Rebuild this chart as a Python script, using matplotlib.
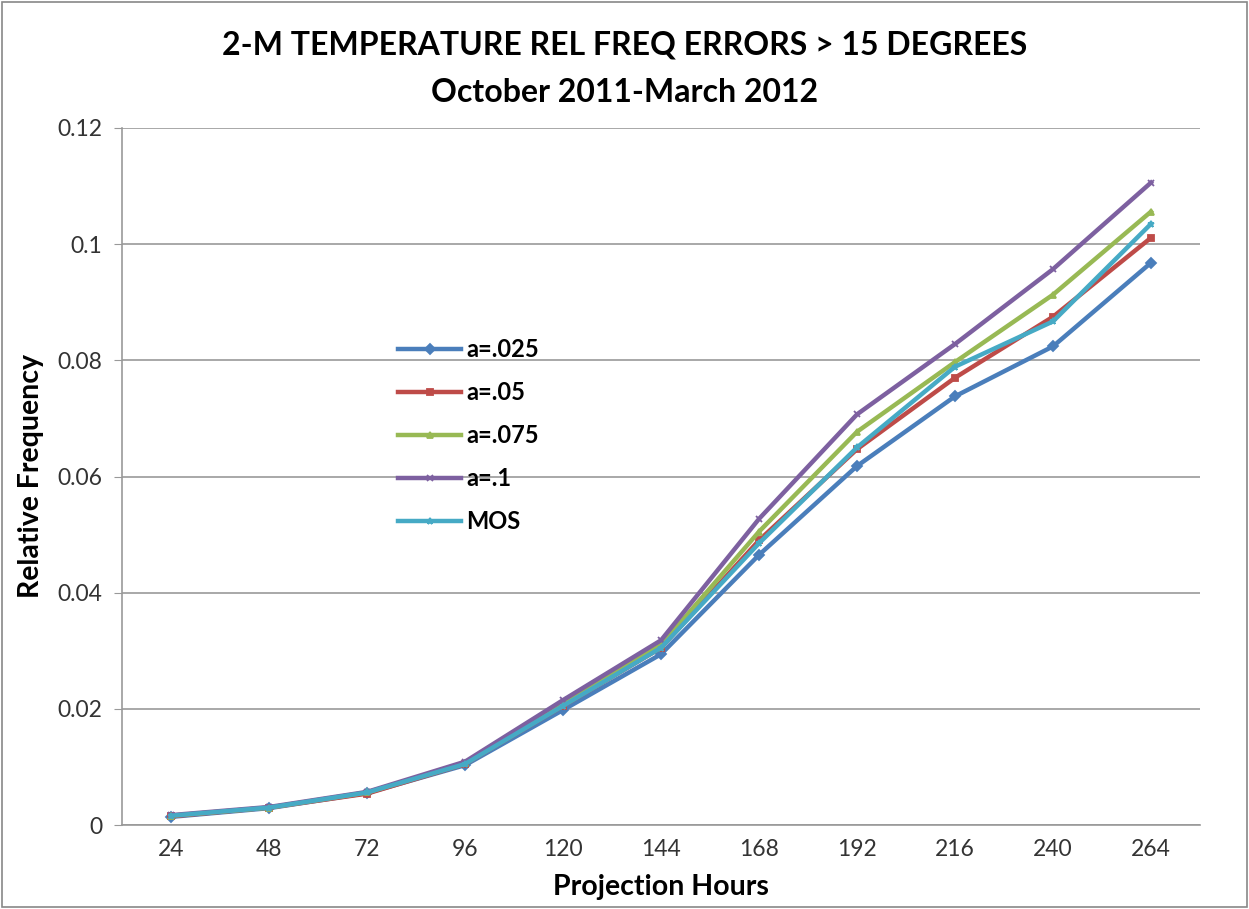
import numpy as np
from matplotlib import pyplot as plt
from matplotlib.patches import Rectangle

plt.rcParams['font.family'] = ['Lato', 'DejaVu Sans']

hours = [24, 48, 72, 96, 120, 144, 168, 192, 216, 240, 264]
a025 = [0.0014, 0.0029, 0.0055, 0.0103, 0.0198, 0.0294, 0.0465, 0.0618, 0.0738, 0.0824, 0.0968]
a05 = [0.0015, 0.0030, 0.0054, 0.0105, 0.0205, 0.0305, 0.0490, 0.0647, 0.0770, 0.0875, 0.1011]
a075 = [0.0016, 0.0030, 0.0056, 0.0106, 0.0210, 0.0310, 0.0505, 0.0677, 0.0797, 0.0913, 0.1056]
a1 = [0.0017, 0.0031, 0.0057, 0.0109, 0.0215, 0.0318, 0.0527, 0.0707, 0.0828, 0.0957, 0.1106]
mos = [0.0016, 0.0030, 0.0056, 0.0105, 0.0205, 0.0305, 0.0485, 0.0650, 0.0789, 0.0867, 0.1035]

labels = ["a=.025", "a=.05", "a=.075", "a=.1", "MOS"]
colors = ["#4A7EBB", "#BE4B48", "#98B954", "#7D60A0", "#46AAC5"]
markers = ["D", "s", "^", "x", "*"]

fig = plt.figure(figsize=(12.49, 9.09), dpi=100)
# thin grey frame round the whole chart, like the Excel chart area
fig.patches.append(Rectangle((0.002, 0.002), 0.996, 0.996, transform=fig.transFigure,
                             fill=False, edgecolor="#888888", linewidth=1.2))
ax = fig.add_axes([122/1249, 84/909, 1078/1249, 697/909])

x = np.arange(len(hours))
series = [a025, a05, a075, a1, mos]
for vals, lab, col, mk in zip(series, labels, colors, markers):
    ax.plot(x, vals, color=col, linewidth=3.2, marker=mk, markersize=5,
            markeredgewidth=1.3, label=lab)

ax.set_xlim(-0.5, len(hours) - 0.5)
ax.set_ylim(0, 0.12)
ax.set_yticks([0, 0.02, 0.04, 0.06, 0.08, 0.1, 0.12])
ax.set_yticklabels(["0", "0.02", "0.04", "0.06", "0.08", "0.1", "0.12"])
ax.set_xticks(x)
ax.set_xticklabels([str(h) for h in hours])
ax.tick_params(axis='both', labelsize=16.5, colors="#333333", length=0, pad=10)
ax.tick_params(axis='y', length=6, color="#999999", pad=8)
ax.grid(axis='y', color="#999999", linewidth=1.2)
ax.set_axisbelow(True)
for s in ["top", "right"]:
    ax.spines[s].set_visible(False)
for s in ["left", "bottom"]:
    ax.spines[s].set_color("#999999")
    ax.spines[s].set_linewidth(1.2)

ax.set_xlabel("Projection Hours", fontsize=20.5, fontweight="bold", labelpad=10)
ax.set_ylabel("Relative Frequency", fontsize=20.5, fontweight="bold", labelpad=10)
fig.text(0.5, 0.966, "2-M TEMPERATURE REL FREQ ERRORS > 15 DEGREES\nOctober 2011-March 2012",
         ha="center", va="top", fontsize=23, fontweight="bold", linespacing=1.75)

leg = ax.legend(loc="upper left", bbox_to_anchor=(0.247, 0.712), frameon=False,
                fontsize=17, handlelength=2.7, labelspacing=0.85, handletextpad=0.2,
                borderaxespad=0)
for t in leg.get_texts():
    t.set_fontweight("bold")

fig.savefig("out.png", dpi=100)
